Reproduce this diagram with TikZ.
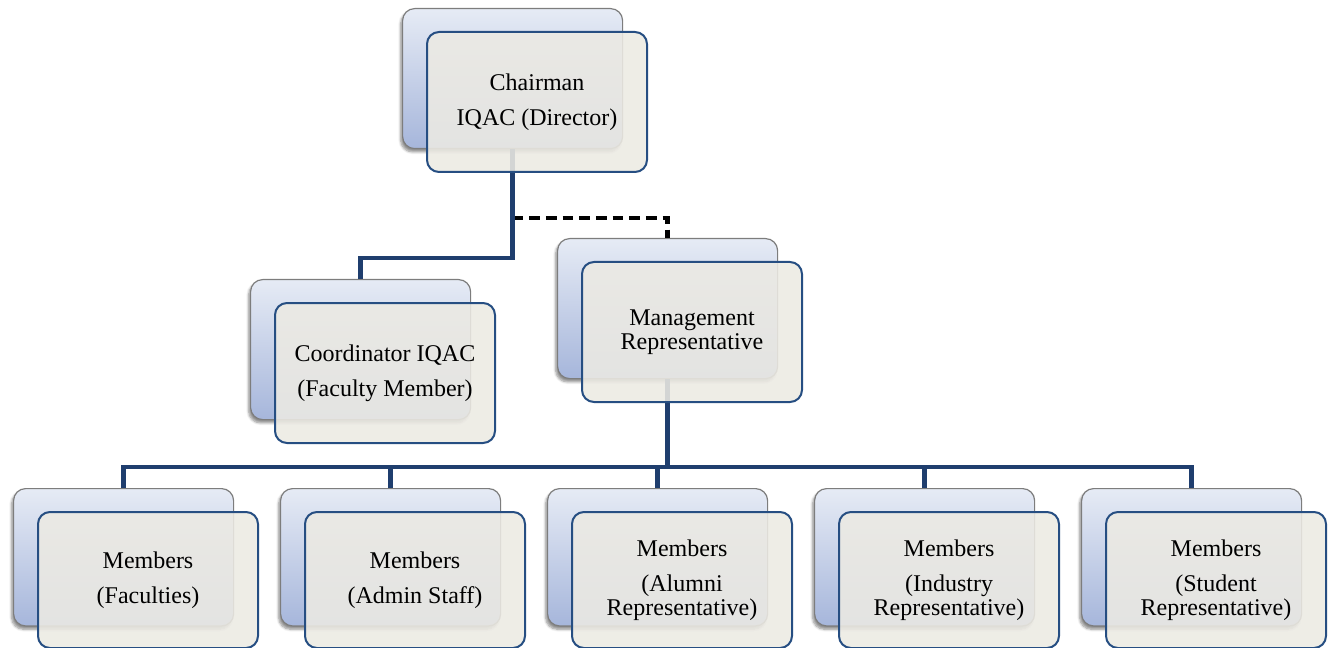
\documentclass[tikz,border=0pt]{standalone}
\usepackage{fontspec}
\setmainfont{Liberation Serif}
\usetikzlibrary{shadows.blur,calc}
\definecolor{connblue}{RGB}{31,62,110}
\definecolor{frontfill}{RGB}{236,234,227}
\definecolor{frontdraw}{RGB}{38,78,130}
\definecolor{backtop}{RGB}{230,235,245}
\definecolor{backbot}{RGB}{166,182,219}
\definecolor{backdraw}{RGB}{125,125,125}
\tikzset{
 backbox/.style={rectangle, rounded corners=9pt, draw=backdraw, line width=0.9pt,
   top color=backtop, bottom color=backbot, minimum width=165pt, minimum height=105pt,
   anchor=north west, inner sep=0pt,
   blur shadow={shadow xshift=-1.5pt, shadow yshift=-2.5pt, shadow blur steps=6, shadow opacity=45}},
 frontbox/.style={rectangle, rounded corners=9pt, draw=frontdraw, line width=1.5pt,
   fill=frontfill, fill opacity=0.88, text opacity=1, minimum width=165pt, minimum height=105pt,
   anchor=north west, inner sep=0pt, align=center, font=\fontsize{18}{18}\selectfont},
 conn/.style={draw=connblue, line width=3.5pt},
 dashconn/.style={draw=black, line width=3.5pt, dash pattern=on 8pt off 4.5pt},
}
\begin{document}
\begin{tikzpicture}[x=0.75pt,y=-0.75pt]
\useasboundingbox (0,0) rectangle (1333,648);
% back boxes
\node[backbox] (chairB) at (402,8) {};
\node[backbox] (coordB) at (250,279) {};
\node[backbox] (mgmtB) at (557,238) {};
\node[backbox, minimum height=103pt] (m1B) at (13,488) {};
\node[backbox, minimum height=103pt] (m2B) at (280,488) {};
\node[backbox, minimum height=103pt] (m3B) at (547,488) {};
\node[backbox, minimum height=103pt] (m4B) at (814,488) {};
\node[backbox, minimum height=103pt] (m5B) at (1081,488) {};
% junction coordinates
\coordinate (jdash) at (0,218);
\coordinate (jcoord) at (0,258);
\coordinate (bus) at (0,467);
% connectors
\draw[dashconn] (chairB.south |- jdash) -| (mgmtB.north);
\draw[conn] (chairB.south) -- (chairB.south |- jcoord) -- (coordB.north |- jcoord) -- (coordB.north);
\draw[conn] (mgmtB.south) -- (mgmtB.south |- bus);
\draw[conn] (m1B.north) -- (m1B.north |- bus) -- (m5B.north |- bus) -- (m5B.north);
\draw[conn] (m2B.north) -- (m2B.north |- bus);
\draw[conn] (m3B.north) -- (m3B.north |- bus);
\draw[conn] (m4B.north) -- (m4B.north |- bus);
% front boxes
\node[frontbox] (chair) at (426,31) {Chairman\\[8pt]IQAC (Director)};
\node[frontbox] (coord) at (274,302) {Coordinator IQAC\\[8pt](Faculty Member)};
\node[frontbox] (mgmt) at (581,261) {Management\\Representative};
\node[frontbox, minimum height=102pt] (m1) at (37,511) {Members\\[8pt](Faculties)};
\node[frontbox, minimum height=102pt] (m2) at (304,511) {Members\\[8pt](Admin Staff)};
\node[frontbox, minimum height=102pt] (m3) at (571,511) {Members\\[8pt](Alumni\\Representative)};
\node[frontbox, minimum height=102pt] (m4) at (838,511) {Members\\[8pt](Industry\\Representative)};
\node[frontbox, minimum height=102pt] (m5) at (1105,511) {Members\\[8pt](Student\\Representative)};
\end{tikzpicture}
\end{document}
